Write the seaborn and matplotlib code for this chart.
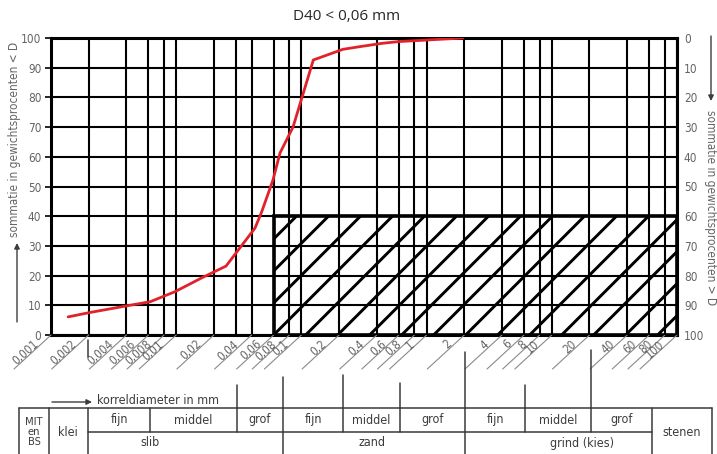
import numpy as np
import pandas as pd
import matplotlib
matplotlib.use("Agg")
import matplotlib.pyplot as plt
from matplotlib.lines import Line2D
from matplotlib.patches import Rectangle
from matplotlib.ticker import NullLocator
import seaborn as sns

# Korrelverdeling: zeefkromme (sommatie in gewichtsprocenten < D)
diameter_mm = [0.00137, 0.002, 0.004, 0.0062, 0.008, 0.0098, 0.0161, 0.025, 0.0426,
               0.0482, 0.0593, 0.0675, 0.0857, 0.1035, 0.1245, 0.215, 0.294, 0.44,
               0.60, 0.81, 1.95]
passing_pct = [6.1, 7.5, 9.8, 11.2, 13.1, 14.6, 19.3, 23.2, 36.0,
               41.5, 52.2, 61.3, 70.0, 81.4, 92.6, 96.2, 97.1, 98.2,
               98.8, 99.1, 100.0]

# verticale lijnen van het logaritmisch papier en hun opschriften
grid_mm = [0.001, 0.002, 0.004, 0.006, 0.008, 0.01, 0.02, 0.03, 0.04, 0.06, 0.08,
           0.1, 0.2, 0.4, 0.6, 0.8, 1, 2, 4, 6, 8, 10, 20, 40, 60, 80, 100]
grid_labels = ["0,001", "0,002", "0,004", "0,006", "0,008", "0,01", "0,02", "",
               "0,04", "0,06", "0,08", "0,1", "0,2", "0,4", "0,6", "0,8", "1", "2",
               "4", "6", "8", "10", "20", "40", "60", "80", "100"]
pct_ticks = [0, 10, 20, 30, 40, 50, 60, 70, 80, 90, 100]

# criterium D40 < 0,06 mm: verboden gebied
zone_d_min, zone_d_max, zone_pct = 0.06, 100, 40

title = "D40 < 0,06 mm"
ylabel_left = "sommatie in gewichtsprocenten < D"
ylabel_right = "sommatie in gewichtsprocenten > D"
xlabel = "korreldiameter in mm"

# classificatietabel (MIT en BS)
sub_fractions = ["fijn", "middel", "grof", "fijn", "middel", "grof", "fijn", "middel", "grof"]
main_fractions = ["slib", "zand", "grind (kies)"]

W, H = 717, 454
sns.set_style("white")
plt.rcParams["font.family"] = ["DejaVu Sans"]
GREY = "#646464"
NARROW = dict(family="DejaVu Sans", stretch="condensed")

fig = plt.figure(figsize=(W / 100, H / 100), dpi=100)


def fx(x):
    return x / W


def fy(y):
    return 1 - y / H


ax = fig.add_axes([fx(51), fy(335), fx(677 - 51), (335 - 38) / H])

df = pd.DataFrame({"diameter_mm": diameter_mm, "passing_pct": passing_pct})
sns.lineplot(data=df, x="diameter_mm", y="passing_pct", ax=ax, color="#e1222b",
             lw=2.0, sort=False, zorder=6)

ax.set_xscale("log")
ax.set_xlim(grid_mm[0], grid_mm[-1])
ax.set_ylim(0, 100)
ax.set_xticks(grid_mm)
ax.set_xticklabels([])
ax.xaxis.set_minor_locator(NullLocator())
ax.set_yticks(pct_ticks)
ax.set_yticklabels([str(v) for v in pct_ticks], color=GREY, fontsize=8.5, **NARROW)
ax.tick_params(axis="x", length=0)
ax.tick_params(axis="y", length=4, width=1.2, color="black", pad=3)
ax.grid(True, which="major", color="black", lw=1.5)
ax.set_xlabel("")
ax.set_ylabel("")
for sp in ax.spines.values():
    sp.set_visible(True)
    sp.set_color("black")
    sp.set_linewidth(2.2)

ax2 = ax.twinx()
ax2.set_ylim(100, 0)
ax2.set_yticks(pct_ticks)
ax2.set_yticklabels([str(v) for v in pct_ticks], color=GREY, fontsize=8.5, **NARROW)
ax2.tick_params(axis="y", length=0, pad=5)
ax2.grid(False)
for sp in ax2.spines.values():
    sp.set_visible(False)

# verboden gebied met arcering
zone = Rectangle((zone_d_min, 0), zone_d_max - zone_d_min, zone_pct, fill=False,
                 ec="black", lw=2.6, zorder=5)
ax.add_patch(zone)
(x0, y0) = ax.transData.transform((zone_d_min, 0))
(x1, y1) = ax.transData.transform((zone_d_max, zone_pct))
hh = y1 - y0
step = 32
inv = ax.transData.inverted()
k = -int(hh // step) - 1
while x0 + k * step < x1:
    c = x0 + k * step
    p = inv.transform([(c, y0), (c + hh, y1)])
    ln, = ax.plot(p[:, 0], p[:, 1], color="black", lw=2.1, solid_capstyle="butt", zorder=4)
    ln.set_clip_path(zone)
    k += 1

# opschriften langs de korreldiameter-as
xt = ax.get_xaxis_transform()
for v, lab in zip(grid_mm, grid_labels):
    if not lab:
        continue
    ax.annotate("", xy=(v, 0), xycoords=xt, xytext=(-37, -34), textcoords="offset pixels",
                arrowprops=dict(arrowstyle="-", color="#8a8a8a", lw=0.8, shrinkA=0, shrinkB=0),
                annotation_clip=False)
    ax.annotate(lab, xy=(v, 0), xycoords=xt, xytext=(-12, -10), textcoords="offset pixels",
                rotation=42, rotation_mode="anchor", ha="right", va="baseline",
                color=GREY, fontsize=8.5, annotation_clip=False, **NARROW)

# titel
fig.text(fx(347), fy(16), title, family="Open Sans", fontsize=11, ha="center", va="center")

# aslabels met pijlen
fig.text(fx(15), fy(237), ylabel_left, rotation=90, ha="center", va="bottom",
         color=GREY, fontsize=8.5, **NARROW)
fig.text(fx(711), fy(110), ylabel_right, rotation=270, ha="center", va="top",
         color=GREY, fontsize=8.5, **NARROW)
fig.text(fx(97), fy(400), xlabel, ha="left", va="center", color="#3c3c3c",
         fontsize=9, **NARROW)


def arrow(xa, ya, xb, yb):
    ax.annotate("", xy=(xb, H - yb), xycoords="figure pixels",
                xytext=(xa, H - ya), textcoords="figure pixels",
                arrowprops=dict(arrowstyle="-|>", color="#3c3c3c", lw=1.0,
                                mutation_scale=8, shrinkA=0, shrinkB=0),
                annotation_clip=False)


arrow(17, 322, 17, 243)
arrow(711, 36, 711, 101)
arrow(52, 402, 92, 402)


def fline(xs, ys, lw=1.1, color="#3a3a3a"):
    fig.add_artist(Line2D([fx(x) for x in xs], [fy(y) for y in ys],
                          transform=fig.transFigure, color=color, lw=lw))


# verlengde scheidingslijnen tussen as en tabel
fline([88, 88], [340, 357])
for xv, ytop in [(237, 385), (283, 377), (343, 375), (400, 383), (465, 352),
                 (525, 385), (591, 350)]:
    fline([xv, xv], [ytop, 408])

# tabel
T_TOP, T_MID, T_BOT = 408, 432, 456
fline([19, 712], [T_TOP, T_TOP])
fline([88, 652], [T_MID, T_MID])
for xv in [19, 49, 88, 283, 465, 652, 712]:
    fline([xv, xv], [T_TOP, T_BOT])
for xv in [150, 237, 343, 400, 525, 591]:
    fline([xv, xv], [T_TOP, T_MID])

TXT = dict(color="#3c3c3c", fontsize=9, ha="center", va="center", **NARROW)
sub_edges = [88, 150, 237, 283, 343, 400, 465, 525, 591, 652]
for i, lab in enumerate(sub_fractions):
    fig.text(fx((sub_edges[i] + sub_edges[i + 1]) / 2), fy(420), lab, **TXT)
for lab, xc in zip(main_fractions, [150, 372, 582]):
    fig.text(fx(xc), fy(443), lab, **TXT)
fig.text(fx(34), fy(432), "MIT\nen\nBS", linespacing=0.95,
         **{**TXT, "fontsize": 8})
fig.text(fx(68), fy(432), "klei", **TXT)
fig.text(fx(682), fy(432), "stenen", **TXT)

fig.savefig("out.png", dpi=100)
